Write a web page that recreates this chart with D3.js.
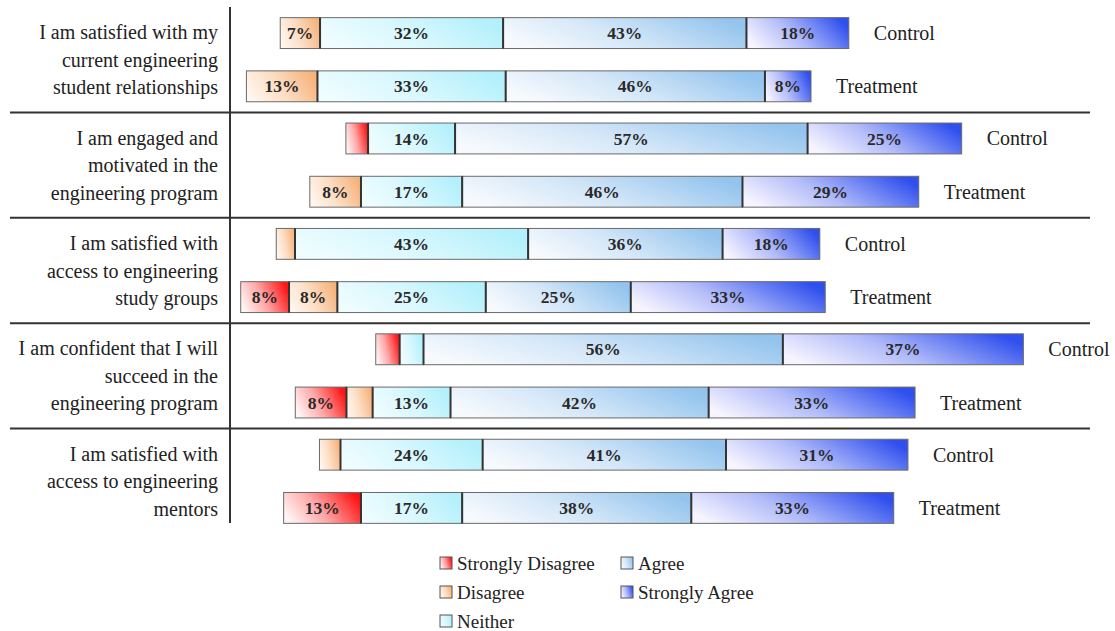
<!DOCTYPE html>
<html>
<head>
<meta charset="utf-8">
<script src="https://cdn.jsdelivr.net/npm/d3@7"></script>
<style>
  html, body { margin: 0; padding: 0; background: #fff; }
  svg { display: block; }
</style>
</head>
<body>
<svg id="chart" width="1115" height="631"></svg>
<script>
/* ── Data ────────────────────────────────────────────────────────── */
const QUESTIONS = [
  ['I am satisfied with my', 'current engineering', 'student relationships'],
  ['I am engaged and', 'motivated in the', 'engineering program'],
  ['I am satisfied with', 'access to engineering', 'study groups'],
  ['I am confident that I will', 'succeed in the', 'engineering program'],
  ['I am satisfied with', 'access to engineering', 'mentors']
];
const GROUPS     = ['Control', 'Treatment'];
const CATEGORIES = ['Strongly Disagree', 'Disagree', 'Neither', 'Agree', 'Strongly Agree'];

// segment lengths as drawn (SD, D, N, A, SA), in % units of the shared axis
const CONTROL_VALUES = [
  [0,    7.0, 32.2, 42.8, 18.0],
  [3.9,  0,   15.3, 62.0, 27.1],
  [0,    3.3, 41.0, 34.2, 17.1],
  [4.2,  0,    4.2, 63.2, 42.3],
  [0,    3.7, 25.0, 42.8, 32.0]
];
const TREATMENT_VALUES = [
  [0,   12.5, 33.1, 45.6,  8.1],
  [0,    9.0, 17.8, 49.3, 31.0],
  [8.5,  8.5, 26.1, 25.5, 34.2],
  [9.0,  4.6, 13.7, 45.4, 36.3],
  [13.6, 0,   17.8, 40.3, 35.6]
];
// printed percentages
const CONTROL_LABELS = [
  ['', '7%', '32%', '43%', '18%'],
  ['', '',   '14%', '57%', '25%'],
  ['', '',   '43%', '36%', '18%'],
  ['', '',   '',    '56%', '37%'],
  ['', '',   '24%', '41%', '31%']
];
const TREATMENT_LABELS = [
  ['',    '13%', '33%', '46%', '8%'],
  ['',    '8%',  '17%', '46%', '29%'],
  ['8%',  '8%',  '25%', '25%', '33%'],
  ['8%',  '',    '13%', '42%', '33%'],
  ['13%', '',    '17%', '38%', '33%']
];

/* ── Configuration ───────────────────────────────────────────────── */
const SERIF   = '"Liberation Serif", "Times New Roman", serif';
const LABEL_X = 218;   // right edge of question text
const AXIS_X  = 230;   // vertical separator
const GRADS = [        // light -> saturated, per category
  ['#fff4f4', '#ff1414'],
  ['#fff6ee', '#f7b27a'],
  ['#effdff', '#b2f0fb'],
  ['#f7fafd', '#94c4ee'],
  ['#f6f4ff', '#3050ee']
];

/* ── Scales ──────────────────────────────────────────────────────── */
const x  = d3.scaleLinear().domain([-30, 110]).range([241, 1037]);
const y  = d3.scaleBand().domain(d3.range(QUESTIONS.length)).range([7, 534]);
const yg = d3.scaleBand().domain(GROUPS).range([0, y.bandwidth()])
             .paddingInner(0.42).paddingOuter(0.2);

const svg  = d3.select('#chart');
const defs = svg.append('defs');

GRADS.forEach((c, i) => {
  const g = defs.append('linearGradient').attr('id', 'grad' + i)
    .attr('x1', 0).attr('y1', 0.65).attr('x2', 1).attr('y2', 0.35);
  g.append('stop').attr('offset', 0).attr('stop-color', c[0]);
  g.append('stop').attr('offset', 0.45).attr('stop-color', d3.interpolateRgb(c[0], c[1])(0.35));
  g.append('stop').attr('offset', 1).attr('stop-color', c[1]);
});

/* ── Build bar records: centred on the middle of "Neither" ───────── */
const bars = [];
QUESTIONS.forEach((q, qi) => {
  GROUPS.forEach(grp => {
    const vals = grp === 'Control' ? CONTROL_VALUES[qi] : TREATMENT_VALUES[qi];
    const labs = grp === 'Control' ? CONTROL_LABELS[qi] : TREATMENT_LABELS[qi];
    let start = -(vals[0] + vals[1] + vals[2] / 2);
    const segs = [];
    vals.forEach((v, ci) => {
      if (v > 0) segs.push({ ci, x0: start, x1: start + v, label: labs[ci] });
      start += v;
    });
    bars.push({ qi, grp, segs, end: start });
  });
});

/* ── Bars ────────────────────────────────────────────────────────── */
const barG = svg.append('g').selectAll('g.bar')
  .data(bars).join('g')
  .attr('class', 'bar')
  .attr('transform', d => `translate(0,${y(d.qi) + yg(d.grp)})`);

barG.selectAll('rect')
  .data(d => d.segs).join('rect')
  .attr('x', s => x(s.x0))
  .attr('width', s => x(s.x1) - x(s.x0))
  .attr('height', yg.bandwidth())
  .attr('fill', s => `url(#grad${s.ci})`)
  .attr('stroke', '#6a6a6a')
  .attr('stroke-width', 1);

// darker dividers between segments
barG.selectAll('line.div')
  .data(d => d.segs.slice(1)).join('line')
  .attr('class', 'div')
  .attr('x1', s => x(s.x0)).attr('x2', s => x(s.x0))
  .attr('y1', 0).attr('y2', yg.bandwidth())
  .attr('stroke', '#333').attr('stroke-width', 2);

barG.selectAll('text.pct')
  .data(d => d.segs.filter(s => s.label)).join('text')
  .attr('class', 'pct')
  .attr('x', s => (x(s.x0) + x(s.x1)) / 2)
  .attr('y', yg.bandwidth() / 2)
  .attr('dy', '0.35em')
  .attr('text-anchor', 'middle')
  .attr('font-family', SERIF)
  .attr('font-weight', 'bold')
  .attr('font-size', 17.5)
  .attr('fill', '#2a2a2a')
  .text(s => s.label);

barG.append('text')
  .attr('x', d => x(d.end) + 25)
  .attr('y', yg.bandwidth() / 2)
  .attr('dy', '0.35em')
  .attr('font-family', SERIF)
  .attr('font-size', 20)
  .attr('fill', '#222')
  .text(d => d.grp);

/* ── Question labels ─────────────────────────────────────────────── */
const LINE_H = 27.5;
svg.append('g').selectAll('text')
  .data(QUESTIONS).join('text')
  .attr('font-family', SERIF)
  .attr('font-size', 20)
  .attr('fill', '#222')
  .attr('text-anchor', 'end')
  .each(function(lines, qi) {
    const cy = y(qi) + y.bandwidth() / 2;
    d3.select(this).selectAll('tspan')
      .data(lines).join('tspan')
      .attr('x', LABEL_X)
      .attr('y', (l, i) => cy + (i - (lines.length - 1) / 2) * LINE_H)
      .attr('dy', '0.35em')
      .text(l => l);
  });

/* ── Grid separators ─────────────────────────────────────────────── */
svg.append('g').selectAll('line')
  .data(d3.range(1, QUESTIONS.length)).join('line')
  .attr('x1', 10).attr('x2', 1090)
  .attr('y1', i => y(i)).attr('y2', i => y(i))
  .attr('stroke', '#333').attr('stroke-width', 2);

svg.append('line')
  .attr('x1', AXIS_X).attr('x2', AXIS_X)
  .attr('y1', y.range()[0]).attr('y2', y.range()[1] - 11)
  .attr('stroke', '#333').attr('stroke-width', 2);

/* ── Legend (3 rows, column-major) ───────────────────────────────── */
const legX = [440, 621], legY0 = 563, legDY = 29;
const leg = svg.append('g').selectAll('g')
  .data(CATEGORIES).join('g')
  .attr('transform', (c, i) =>
    `translate(${legX[Math.floor(i / 3)]},${legY0 + (i % 3) * legDY})`);

leg.append('rect')
  .attr('x', 0).attr('y', -6).attr('width', 12).attr('height', 12)
  .attr('fill', (c, i) => `url(#grad${i})`)
  .attr('stroke', '#555').attr('stroke-width', 1);

leg.append('text')
  .attr('x', 17).attr('dy', '0.35em')
  .attr('font-family', SERIF)
  .attr('font-size', 19)
  .attr('fill', '#222')
  .text(c => c);
</script>
</body>
</html>
